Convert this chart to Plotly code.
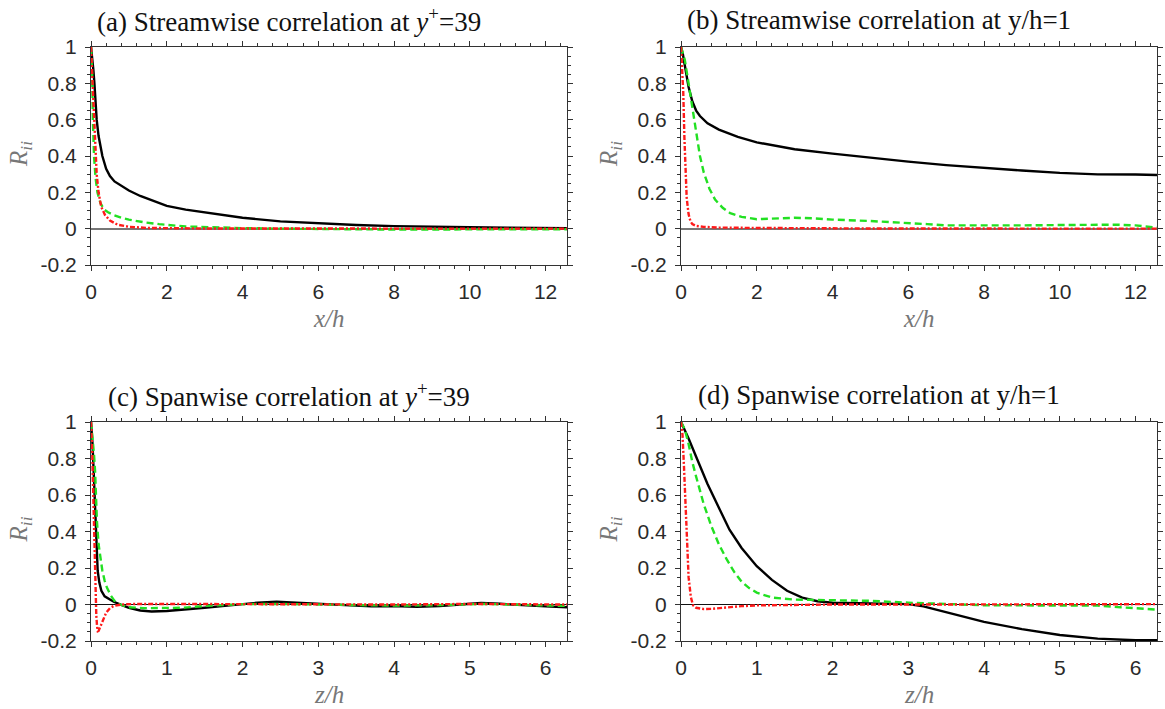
import plotly.graph_objects as go

# ---------------- data ----------------
# (a) streamwise, y+=39
xa_u = [0, 0.03, 0.06, 0.09, 0.12, 0.15, 0.2, 0.25, 0.3, 0.4, 0.5, 0.62, 0.8, 1.0, 1.3, 1.6, 2.0, 2.5, 3.0, 3.5, 4.0, 5.0, 6.0, 7.0, 8.0, 9.0, 10.0, 11.0, 12.566]
Ra_u = [1, 0.95, 0.88, 0.8, 0.7, 0.6, 0.51, 0.45, 0.4, 0.33, 0.29, 0.26, 0.235, 0.21, 0.18, 0.155, 0.125, 0.105, 0.09, 0.075, 0.06, 0.04, 0.028, 0.02, 0.014, 0.01, 0.007, 0.005, 0.003]
xa_v = [0, 0.03, 0.05, 0.08, 0.12, 0.17, 0.25, 0.35, 0.45, 0.6, 0.8, 1.0, 1.4, 1.8, 2.5, 3.0, 4.0, 5.0, 6.0, 8.0, 10.0, 12.566]
Ra_v = [1, 0.85, 0.6, 0.4, 0.28, 0.2, 0.14, 0.105, 0.09, 0.075, 0.06, 0.05, 0.035, 0.025, 0.012, 0.008, 0.003, 0.0, -0.003, -0.005, -0.004, -0.003]
xa_w = [0, 0.02, 0.05, 0.08, 0.11, 0.15, 0.2, 0.27, 0.37, 0.5, 0.7, 1.0, 1.5, 2.0, 3.0, 12.566]
Ra_w = [1, 0.9, 0.72, 0.55, 0.42, 0.3, 0.2, 0.12, 0.075, 0.045, 0.022, 0.01, 0.004, 0.002, 0.001, 0.0]

# (b) streamwise, y/h=1
xb_u = [0, 0.05, 0.1, 0.15, 0.2, 0.3, 0.4, 0.5, 0.7, 1.0, 1.5, 2.0, 2.5, 3.0, 4.0, 5.0, 6.0, 7.0, 8.0, 9.0, 10.0, 11.0, 12.0, 12.566]
Rb_u = [1, 0.96, 0.9, 0.84, 0.78, 0.7, 0.65, 0.62, 0.58, 0.545, 0.505, 0.475, 0.455, 0.437, 0.413, 0.39, 0.369, 0.35, 0.333, 0.32, 0.307, 0.299, 0.298, 0.295]
xb_v = [0, 0.1, 0.2, 0.3, 0.4, 0.5, 0.6, 0.75, 0.9, 1.1, 1.3, 1.6, 2.0, 2.5, 3.0, 3.5, 4.0, 5.0, 6.0, 6.5, 7.0, 8.0, 9.0, 10.0, 11.0, 11.5, 12.0, 12.566]
Rb_v = [1, 0.93, 0.8, 0.66, 0.52, 0.4, 0.31, 0.22, 0.16, 0.115, 0.085, 0.065, 0.052, 0.055, 0.06, 0.057, 0.05, 0.042, 0.033, 0.025, 0.018, 0.017, 0.018, 0.02, 0.022, 0.022, 0.018, 0.005]
xb_w = [0, 0.03, 0.06, 0.09, 0.12, 0.15, 0.2, 0.25, 0.3, 0.4, 0.6, 1.0, 2.0, 3.0, 5.0, 12.566]
Rb_w = [1, 0.9, 0.75, 0.5, 0.3, 0.17, 0.08, 0.04, 0.025, 0.015, 0.01, 0.006, 0.004, 0.002, 0.001, 0.0]

# (c) spanwise, y+=39
zc_u = [0, 0.02, 0.035, 0.05, 0.064, 0.075, 0.088, 0.11, 0.137, 0.18, 0.235, 0.3, 0.4, 0.5, 0.65, 0.8, 1.0, 1.2, 1.5, 1.8, 2.0, 2.2, 2.45, 2.7, 3.0, 3.3, 3.7, 4.0, 4.3, 4.6, 4.85, 5.15, 5.4, 5.7, 6.0, 6.283]
Rc_u = [1, 0.88, 0.73, 0.55, 0.37, 0.27, 0.185, 0.12, 0.075, 0.045, 0.03, 0.015, -0.002, -0.018, -0.033, -0.038, -0.036, -0.03, -0.018, -0.006, 0.002, 0.01, 0.015, 0.01, 0.0, -0.005, -0.01, -0.008, -0.012, -0.008, 0.0, 0.008, 0.004, -0.004, -0.01, -0.015]
zc_v = [0, 0.02, 0.04, 0.054, 0.078, 0.1, 0.125, 0.15, 0.18, 0.21, 0.26, 0.31, 0.38, 0.5, 0.7, 1.0, 1.2, 1.5, 1.8, 2.0, 2.5, 3.0, 3.3, 3.6, 4.0, 4.5, 5.0, 5.2, 5.5, 6.0, 6.283]
Rc_v = [1, 0.92, 0.82, 0.73, 0.46, 0.33, 0.24, 0.185, 0.13, 0.093, 0.05, 0.02, 0.0, -0.015, -0.02, -0.02, -0.018, -0.008, 0.0, 0.002, 0.003, 0.0, -0.003, -0.005, -0.006, -0.004, 0.0, 0.003, 0.0, -0.005, -0.008]
zc_w = [0, 0.015, 0.03, 0.045, 0.06, 0.07, 0.08, 0.09, 0.1, 0.12, 0.15, 0.2, 0.25, 0.3, 0.4, 0.6, 1.0, 2.0, 3.0, 4.0, 5.0, 6.283]
Rc_w = [1, 0.85, 0.6, 0.3, 0.05, -0.06, -0.12, -0.147, -0.145, -0.125, -0.09, -0.045, -0.02, -0.008, 0.0, 0.003, 0.003, 0.002, 0.001, 0.0, 0.003, 0.0]

# (d) spanwise, y/h=1
zd_u = [0, 0.1, 0.2, 0.35, 0.5, 0.64, 0.8, 1.0, 1.2, 1.4, 1.6, 1.8, 2.0, 2.5, 3.0, 3.2, 3.5, 4.0, 4.5, 5.0, 5.5, 6.0, 6.283]
Rd_u = [1, 0.91, 0.81, 0.66, 0.53, 0.41, 0.31, 0.21, 0.135, 0.075, 0.038, 0.018, 0.01, 0.008, 0.002, -0.01, -0.042, -0.095, -0.135, -0.167, -0.187, -0.196, -0.196]
zd_v = [0, 0.05, 0.1, 0.15, 0.2, 0.3, 0.4, 0.5, 0.6, 0.7, 0.8, 0.9, 1.0, 1.2, 1.5, 2.0, 2.5, 3.0, 3.5, 4.0, 4.5, 5.0, 5.5, 5.8, 6.0, 6.283]
Rd_v = [1, 0.96, 0.88, 0.78, 0.7, 0.55, 0.43, 0.33, 0.25, 0.18, 0.125, 0.09, 0.065, 0.038, 0.027, 0.025, 0.02, 0.01, 0.002, -0.004, -0.005, -0.004, -0.006, -0.015, -0.022, -0.028]
zd_w = [0, 0.02, 0.04, 0.06, 0.08, 0.1, 0.13, 0.16, 0.2, 0.3, 0.4, 0.6, 0.8, 1.0, 1.5, 2.0, 3.0, 6.283]
Rd_w = [1, 0.93, 0.75, 0.52, 0.3, 0.15, 0.04, -0.005, -0.018, -0.025, -0.024, -0.016, -0.009, -0.005, -0.002, 0.0, 0.0, 0.002]

titles = ["(a) Streamwise correlation at <i>y</i><sup>+</sup>=39",
          "(b) Streamwise correlation at y/h=1",
          "(c) Spanwise correlation at <i>y</i><sup>+</sup>=39",
          "(d) Spanwise correlation at y/h=1"]
xlabels = ["x/h", "x/h", "z/h", "z/h"]
y_ticks = [-0.2, 0, 0.2, 0.4, 0.6, 0.8, 1]
y_ticktext = ["-0.2", "0", "0.2", "0.4", "0.6", "0.8", "1"]

# ---------------- layout geometry ----------------
W, H = 1165, 709
cols = [(91, 567), (681, 1157)]
rows = [(47, 265), (422, 641)]
zero_styles = [("#777777", 2), ("#111111", 1.2)]

panels = [
    (0, 0, [(xa_u, Ra_u), (xa_v, Ra_v), (xa_w, Ra_w)], 12.566, 2, 0.4),
    (0, 1, [(xb_u, Rb_u), (xb_v, Rb_v), (xb_w, Rb_w)], 12.566, 2, 0.4),
    (1, 0, [(zc_u, Rc_u), (zc_v, Rc_v), (zc_w, Rc_w)], 6.283, 1, 0.2),
    (1, 1, [(zd_u, Rd_u), (zd_v, Rd_v), (zd_w, Rd_w)], 6.283, 1, 0.2),
]

styles = [dict(color="#000000", width=2.4, dash="solid"),
          dict(color="#22e022", width=2.4, dash="7px,4px"),
          dict(color="#ff1a1a", width=2.4, dash="5px,2px,2px,2px")]

fig = go.Figure()
layout = dict(width=W, height=H, margin=dict(l=0, r=0, t=0, b=0, autoexpand=False),
              template="none",
              paper_bgcolor="white", plot_bgcolor="white", showlegend=False)
annotations = []

tickfont = dict(family="Liberation Sans, Arial, sans-serif", size=21, color="#2a2a2a")
for i, (r, c, series, xmax, dt, mdt) in enumerate(panels):
    n = "" if i == 0 else str(i + 1)
    xa, ya = "x" + n, "y" + n
    for (xs, ys), st in zip(series, styles):
        fig.add_trace(go.Scatter(x=xs, y=ys, mode="lines", line=st,
                                 xaxis=xa, yaxis=ya, hoverinfo="skip"))
    x0, x1 = cols[c]
    y0, y1 = rows[r]
    zc, zw = zero_styles[r]
    layout["xaxis" + n] = dict(
        domain=[x0 / W, x1 / W], range=[0, xmax], anchor=ya, automargin=False,
        tickmode="linear", tick0=0, dtick=dt, ticks="outside", ticklen=5,
        tickwidth=1, tickcolor="#333", showline=True, linecolor="#333",
        linewidth=1, mirror="ticks", showgrid=False, zeroline=False,
        tickfont=tickfont, ticklabelstandoff=3,
        minor=dict(ticks="outside", ticklen=3, tickcolor="#333", dtick=mdt, tick0=0, showgrid=False),
    )
    layout["yaxis" + n] = dict(
        domain=[1 - y1 / H, 1 - y0 / H], range=[-0.2, 1], anchor=xa, automargin=False,
        tickmode="array", tickvals=y_ticks, ticktext=y_ticktext,
        ticks="outside", ticklen=5, tickwidth=1, tickcolor="#333",
        showline=True, linecolor="#333", linewidth=1, mirror="ticks",
        showgrid=False, zeroline=True, zerolinecolor=zc, zerolinewidth=zw,
        tickfont=tickfont, ticklabelstandoff=4,
        minor=dict(ticks="outside", ticklen=3, tickcolor="#333", dtick=0.05, tick0=0, showgrid=False),
    )
    # panel title
    annotations.append(dict(
        text=titles[i], xref="paper", yref="paper",
        x=(x0 - 81 + (x1 - x0 + 81) / 2) / W, y=1 - (y0 - 27) / H,
        xanchor="center", yanchor="middle", showarrow=False,
        font=dict(family="Liberation Serif, Times New Roman, serif", size=27, color="#111")))
    # x label
    annotations.append(dict(
        text="<i>" + xlabels[i] + "</i>", xref="paper", yref="paper",
        x=((x0 + x1) / 2) / W, y=1 - (y1 + 53) / H,
        xanchor="center", yanchor="middle", showarrow=False,
        font=dict(family="Liberation Serif, Times New Roman, serif", size=25, color="#777")))
    # y label
    annotations.append(dict(
        text="<i>R</i><sub><i>ii</i></sub>", xref="paper", yref="paper",
        x=(x0 - 71) / W, y=1 - ((y0 + y1) / 2 - 2) / H, textangle=-90,
        xanchor="center", yanchor="middle", showarrow=False,
        font=dict(family="Liberation Serif, Times New Roman, serif", size=25, color="#777")))

layout["annotations"] = annotations
fig.update_layout(**layout)
fig.write_html("out.html")
